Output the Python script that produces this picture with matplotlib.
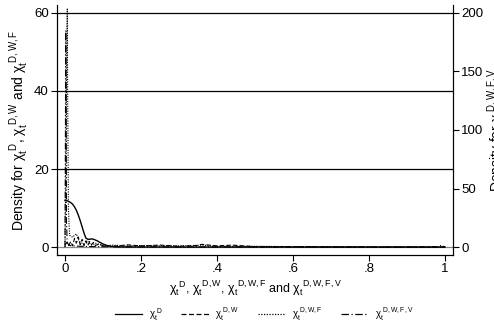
import matplotlib
matplotlib.use("Agg")
import matplotlib.pyplot as plt
from matplotlib.lines import Line2D

plt.rcParams['font.family'] = ['Liberation Sans', 'DejaVu Sans']
plt.rcParams['mathtext.fontset'] = 'custom'
plt.rcParams['mathtext.rm'] = 'Liberation Sans'
plt.rcParams['mathtext.it'] = 'Liberation Sans'

# chi_t^D (solid, left axis)
xD = [0, 0.005, 0.01, 0.015, 0.02, 0.025, 0.03, 0.035, 0.04, 0.045, 0.05, 0.055, 0.06, 0.065, 0.07, 0.075, 0.08, 0.085, 0.09, 0.10, 0.11, 0.12, 0.13, 0.15, 0.2, 0.3, 0.4, 0.5, 0.6, 0.7, 0.8, 0.9, 1.0]
yD = [12.0, 11.9, 11.7, 11.4, 11.0, 10.3, 9.4, 8.2, 6.8, 5.2, 3.6, 2.3, 2.0, 2.0, 2.1, 2.0, 1.8, 1.6, 1.3, 0.8, 0.4, 0.2, 0.08, 0.03, 0.01, 0.0, 0.0, 0.0, 0.0, 0.0, 0.0, 0.0, 0.0]

# chi_t^{D,W} (dashed, left axis)
xDW = [0, 0.005, 0.01, 0.015, 0.02, 0.025, 0.03, 0.035, 0.04, 0.045, 0.05, 0.055, 0.06, 0.065, 0.07, 0.075, 0.08, 0.09, 0.10, 0.12, 0.15, 0.16, 0.2, 0.25, 0.3, 0.35, 0.36, 0.4, 0.44, 0.5, 0.6, 0.8, 1.0]
yDW = [0.5, 1.2, 0.4, 1.4, 0.3, 2.2, 1.0, 2.6, 0.6, 2.0, 0.3, 1.6, 0.4, 1.4, 0.6, 1.2, 0.4, 0.8, 0.3, 0.2, 0.4, 0.6, 0.3, 0.5, 0.2, 0.4, 0.7, 0.3, 0.5, 0.1, 0.1, 0.0, 0.0]

# chi_t^{D,W,F} (dotted, left axis)
xDWF = [0, 0.003, 0.005, 0.006, 0.007, 0.009, 0.012, 0.02, 0.025, 0.03, 0.035, 0.04, 0.05, 0.06, 0.07, 0.08, 0.1, 0.13, 0.16, 0.2, 0.3, 0.36, 0.4, 0.5, 0.6, 0.8, 1.0]
yDWF = [0.0, 25.0, 55.0, 61.0, 40.0, 10.0, 3.0, 2.5, 3.0, 3.4, 2.0, 1.2, 0.8, 1.5, 0.5, 1.0, 0.4, 0.5, 0.3, 0.4, 0.3, 0.5, 0.2, 0.2, 0.1, 0.0, 0.0]

# chi_t^{D,W,F,V} (dash-dot, right axis)
xDWFV = [0, 0.001, 0.002, 0.003, 0.004, 0.006, 0.01, 0.02, 0.05, 0.1, 0.2, 0.4, 0.6, 0.8, 0.98, 0.99, 1.0]
yDWFV = [0.0, 80.0, 185.0, 120.0, 20.0, 4.0, 1.5, 1.0, 0.5, 0.3, 0.2, 0.1, 0.1, 0.1, 0.1, 1.5, 0.1]

xticks = [0, 0.2, 0.4, 0.6, 0.8, 1.0]
xticklabels = ['0', '.2', '.4', '.6', '.8', '1']
lticks = [0, 20, 40, 60]
rticks = [0, 50, 100, 150, 200]

fig = plt.figure(figsize=(4.94, 3.27), dpi=100)
ax = fig.add_axes([0.1154, 0.22, 0.8016, 0.765])
ax2 = ax.twinx()

for v in lticks:
    ax.axhline(v, color='black' if v else '#888888', lw=0.9, zorder=0)

ax.plot(xD, yD, color='black', lw=1.0, ls='-')
ax.plot(xDW, yDW, color='black', lw=0.8, ls=(0, (4, 2)))
ax.plot(xDWF, yDWF, color='black', lw=0.8, ls=(0, (1, 1.2)))
ax2.plot(xDWFV, yDWFV, color='black', lw=0.8, ls=(0, (6, 2, 1, 2)))

ax.set_xlim(-0.021, 1.021)
ax.set_ylim(-2.05, 62.05)
ax2.set_ylim(-2.05 * 10 / 3, 62.05 * 10 / 3)

ax.set_xticks(xticks)
ax.set_xticklabels(xticklabels)
ax.set_yticks(lticks)
ax2.set_yticks(rticks)

for a in (ax, ax2):
    a.spines['top'].set_visible(False)
    a.tick_params(labelsize=9.5, length=4, width=0.8, pad=2)


def chi(sup):
    return r'$\chi_{\mathrm{t}}^{\ \mathrm{' + sup + r'}}$'


ax.set_xlabel(chi('D') + ', ' + chi('D,W') + ', ' + chi('D,W,F') + ' and ' + chi('D,W,F,V'),
              fontsize=9, labelpad=2)
ax.set_ylabel('Density for ' + chi('D') + ', ' + chi('D,W') + ' and ' + chi('D,W,F'),
              fontsize=10, labelpad=2)
ax2.set_ylabel('Density for ' + chi('D,W,F,V'), fontsize=10, labelpad=2)

handles = [
    Line2D([], [], color='black', lw=0.9, ls='-'),
    Line2D([], [], color='black', lw=0.9, ls=(0, (4, 2))),
    Line2D([], [], color='black', lw=0.9, ls=(0, (1, 1.2))),
    Line2D([], [], color='black', lw=0.9, ls=(0, (6, 2, 1, 2))),
]
labels = [chi('D'), chi('D,W'), chi('D,W,F'), chi('D,W,F,V')]
fig.legend(handles, labels, loc='center', bbox_to_anchor=(0.535, 0.04), ncol=4,
           frameon=False, fontsize=7, handlelength=2.8, columnspacing=1.9, handletextpad=0.7)

fig.savefig('out.png', dpi=100)
